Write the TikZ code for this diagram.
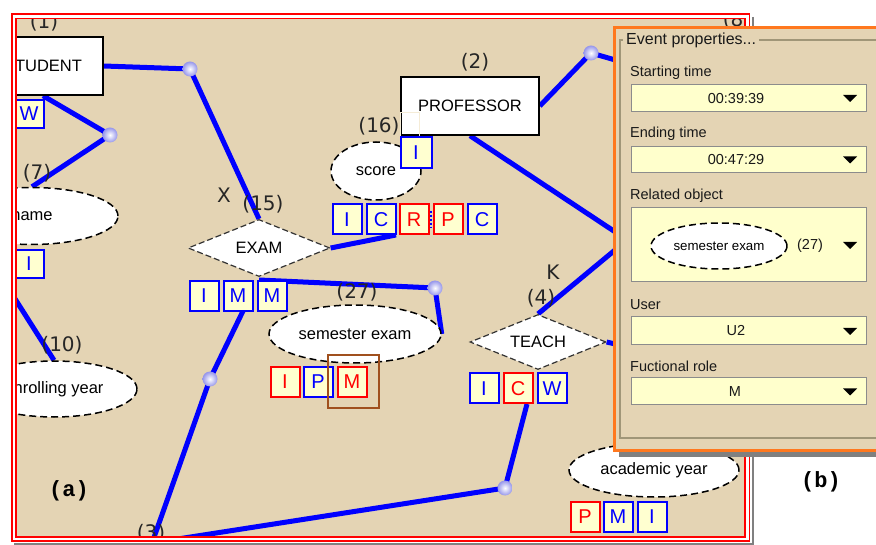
\documentclass[tikz,border=0pt]{standalone}
\usepackage{fontspec}
\setmainfont{Liberation Sans}
\newfontfamily\labfont{DejaVu Sans}
\newfontfamily\monofont{Liberation Mono}
\usetikzlibrary{shapes.geometric,backgrounds}
\definecolor{beige}{RGB}{228,212,180}
\definecolor{tagfill}{RGB}{255,255,208}
\definecolor{combofill}{RGB}{255,255,204}
\definecolor{panelorange}{RGB}{255,120,30}
\definecolor{groupline}{RGB}{160,150,120}
\definecolor{brownbox}{RGB}{160,80,30}
\definecolor{ballcol}{RGB}{150,150,235}
\definecolor{faintline}{RGB}{245,236,215}
\newcommand\myfs[1]{\fontsize{#1pt}{#1pt}\selectfont}
\tikzset{
  conn/.style={draw=blue, line width=5pt},
  hub/.style={circle, inner sep=0pt, minimum size=15pt, shading=radial, inner color=white, outer color=ballcol},
  tagb/.style={rectangle, draw=blue, line width=2pt, fill=tagfill, text=blue, minimum width=29pt, minimum height=30pt, inner sep=0pt, font=\myfs{20}},
  tagr/.style={tagb, draw=red, text=red},
  attr/.style={ellipse, draw=black, dash pattern=on 7pt off 4pt, line width=1.5pt, fill=white, inner sep=0pt, font=\myfs{16.5}},
  rel/.style={diamond, aspect=2.5, draw=black!80, dash pattern=on 6pt off 3pt, line width=1.2pt, fill=white, inner sep=0pt, font=\myfs{16.5}},
  ent/.style={rectangle, draw=black, line width=1.5pt, fill=white, inner sep=0pt, font=\myfs{16.5}},
  lab/.style={font=\labfont\myfs{20}, inner sep=0pt, text=black!85},
  combo/.style={rectangle, draw=black!45, line width=1pt, fill=combofill, inner sep=0pt},
  ptext/.style={font=\myfs{14.5}, inner sep=0pt, anchor=west, text=black!90},
  ctext/.style={font=\myfs{14.5}, inner sep=0pt, text=black!90},
  bigl/.style={font=\monofont\bfseries\myfs{22}, inner sep=0pt},
}
\begin{document}
\begin{tikzpicture}[x=1pt,y=-1pt]
\clip (0,0) rectangle (876,545);

% ---------------- diagram (a) ----------------
\begin{scope}
\clip (16,18.5) rectangle (745,537);

% hubs and free ends
\node[hub] (b1) at (190,69) {};
\node[hub] (b2) at (110,135) {};
\node[hub] (b3) at (210,379) {};
\node[hub] (b4) at (435,288) {};
\node[hub] (b5) at (591,53) {};
\node[hub] (b6) at (505,488) {};
\coordinate (cL) at (-2,272);
\coordinate (c3) at (152,543);
\coordinate (cP1) at (650,70);
\coordinate (cP2) at (650,255);
\coordinate (cP3) at (650,221);
\coordinate (cP4) at (650,352);
\coordinate (dm1) at (431,211);
\coordinate (dm2) at (431,228);
\coordinate (ce) at (396,235);
\coordinate (cm) at (243,311);
\coordinate (cw) at (527,404);
\coordinate (cx) at (259,280);

% entities, attributes, relations
\node[ent, minimum width=120pt, minimum height=58pt] (student) at (43,66) {STUDENT};
\node[ent, minimum width=138pt, minimum height=58pt] (prof) at (470,106) {PROFESSOR};
\node[attr, minimum width=172pt, minimum height=57pt] (name) at (32,216) {name};
\node[attr, minimum width=166pt, minimum height=56pt] (enroll) at (54,389) {enrolling year};
\node[attr, minimum width=90pt, minimum height=58pt] (score) at (376,171) {score};
\node[attr, minimum width=172pt, minimum height=58pt] (sem) at (355,334) {semester exam};
\node[attr, minimum width=170pt, minimum height=54pt] (acad) at (654,470) {academic year};
\node[rel, minimum width=142pt, minimum height=57pt] (exam) at (259,248) {EXAM};
\node[rel, minimum width=136pt, minimum height=55pt] (teach) at (538,342) {TEACH};

% labels
\node[lab] (l1) at (44,22) {(1)};
\node[lab] (l7) at (37,173) {(7)};
\node[lab] (l10) at (62,345) {(10)};
\node[lab] (l2) at (475,62) {(2)};
\node[lab] (l16) at (379,126) {(16)};
\node[lab] (l15) at (263,204) {(15)};
\node[lab] (lx) at (224,195) {X};
\node[lab] (l27) at (357,292) {(27)};
\node[lab] (lk) at (553,272) {K};
\node[lab] (l4) at (541,298) {(4)};
\node[lab] (l3) at (151,533) {(3)};
\node[lab] (l8) at (737,20) {(8)};

% role tags
\node[tagb, minimum height=28pt] (sw) at (29,114) {W};
\node[tagb, minimum height=28pt] (ni) at (29,264) {I};
\draw[faintline, line width=1pt] (400,113) rectangle (419,137);
\node[tagb, minimum width=31pt, minimum height=31pt] (si) at (416,153) {I};
\node[tagb] (t1) at (347,219.5) {I};
\node[tagb] (t2) at (381,219.5) {C};
\node[tagr] (t3) at (414,219.5) {R};
\node[tagr] (t4) at (448,219.5) {P};
\node[tagb] (t5) at (482,219.5) {C};
\draw[blue, line width=1.5pt, dash pattern=on 2pt off 2pt] (dm1) -- (dm2);
\node[tagb] (e1) at (204,296) {I};
\node[tagb] (e2) at (238,296) {M};
\node[tagb] (e3) at (272,296) {M};
\node[tagr] (s1) at (285,382) {I};
\node[tagb] (s2) at (318,382) {P};
\node[tagr] (s3) at (352,382) {M};
\draw[brownbox, line width=1.5pt] (328,355) rectangle (379,408);
\node[tagb] (w1) at (484,388.5) {I};
\node[tagr] (w2) at (518,388.5) {C};
\node[tagb] (w3) at (552,388.5) {W};
\node[tagr] (a1) at (585,517) {P};
\node[tagb] (a2) at (618,517) {M};
\node[tagb] (a3) at (652,517) {I};
\end{scope}

\begin{pgfonlayer}{background}
\fill[white] (0,0) rectangle (876,545);
\begin{scope}
\clip (16,18.5) rectangle (745,537);
\fill[beige] (16,18.5) rectangle (745,537);
\draw[conn] (student.east) -- (b1.center) -- (exam.north);
\draw[conn] (student.south) -- (b2.center) -- (name.north);
\draw[conn] (cL) -- (enroll.north);
\draw[conn] (exam.east) -- (ce);
\draw[conn] (cx) -- (b4.center) -- (sem.east);
\draw[conn] (cm) -- (b3.center) -- (c3);
\draw[conn] (c3) -- (b6.center) -- (cw);
\draw[conn] (prof.east) -- (b5.center) -- (cP1);
\draw[conn] (prof.south) -- (cP2);
\draw[conn] (teach.north) -- (cP3);
\draw[conn] (teach.east) -- (cP4);
\end{scope}
\end{pgfonlayer}

% frame of (a)
\draw[red, line width=1.5pt] (12,14) rectangle (749.5,541);
\draw[red, line width=1.5pt] (16,18.5) rectangle (745,537);
\draw[gray, line width=1.5pt] (753,17) -- (753,545);
\draw[gray, line width=1.5pt] (14,544) -- (753,544);
\node[bigl] (la) at (69,491) {(a)};
\node[bigl] (lb) at (821,482) {(b)};

% ---------------- panel (b) ----------------
\fill[gray] (619,33) rectangle (880,457);
\draw[panelorange, line width=3pt, fill=beige] (614,28) rectangle (890,450);
\draw[groupline, line width=1.2pt] (620,40) rectangle (900,438);
\node[font=\myfs{16}, fill=beige, inner xsep=3pt, inner ysep=0pt, anchor=west, text=black!90] (title) at (623,40) {Event properties...};

\node[ptext] (p1) at (630,73) {Starting time};
\node[combo, minimum width=235pt, minimum height=27pt] (cb1) at (748.5,98.5) {};
\node[ctext] (v1) at (736,98.5) {00:39:39};
\fill (843,95) -- (857,95) -- (850,102) -- cycle;

\node[ptext] (p2) at (630,134) {Ending time};
\node[combo, minimum width=235pt, minimum height=26pt] (cb2) at (748.5,160) {};
\node[ctext] (v2) at (736,160) {00:47:29};
\fill (843,156.5) -- (857,156.5) -- (850,163.5) -- cycle;

\node[ptext] (p3) at (630,196) {Related object};
\node[combo, minimum width=235pt, minimum height=74pt] (cb3) at (748.5,245) {};
\node[attr, minimum width=136pt, minimum height=46pt, font=\myfs{13.3}] (pell) at (719,246) {semester exam};
\node[ctext] (v3) at (810,246) {(27)};
\fill (843,242) -- (857,242) -- (850,249) -- cycle;

\node[ptext] (p4) at (630,305) {User};
\node[combo, minimum width=235pt, minimum height=28pt] (cb4) at (748.5,331) {};
\node[ctext] (v4) at (736,331) {U2};
\fill (843,328) -- (857,328) -- (850,335) -- cycle;

\node[ptext] (p5) at (630,366) {Fuctional role};
\node[combo, minimum width=235pt, minimum height=27pt] (cb5) at (748.5,391.5) {};
\node[ctext] (v5) at (735,392) {M};
\fill (843,388.5) -- (857,388.5) -- (850,395.5) -- cycle;
\end{tikzpicture}
\end{document}
